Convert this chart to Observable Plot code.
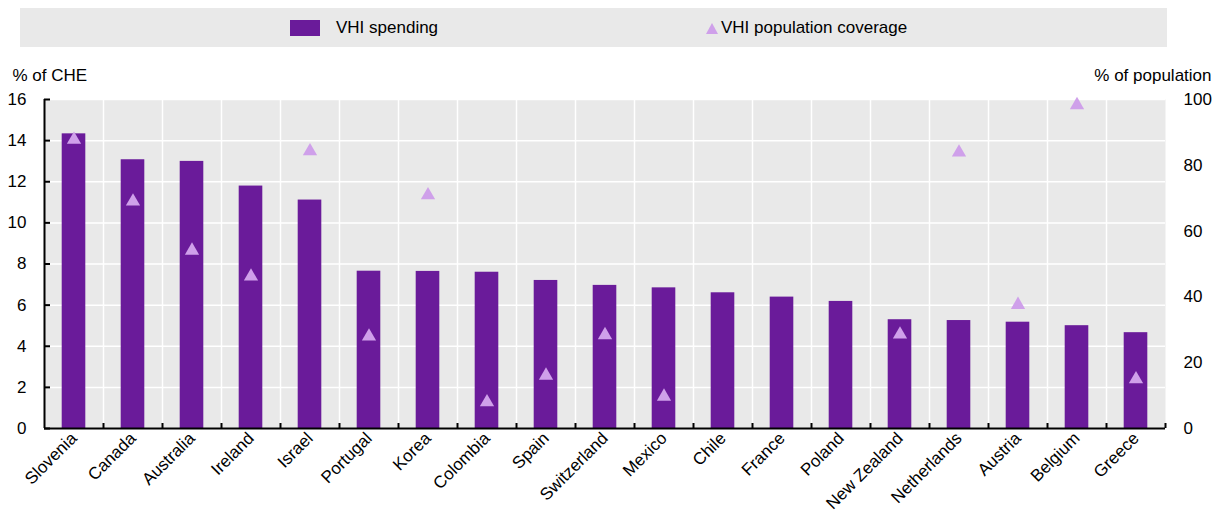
<!DOCTYPE html>
<html><head><meta charset="utf-8">
<script src="https://cdn.jsdelivr.net/npm/d3@7"></script>
<script src="https://cdn.jsdelivr.net/npm/@observablehq/plot@0.6"></script>
<style>
body{margin:0;background:#fff;font-family:"Liberation Sans",Arial,sans-serif;}
#wrap{position:relative;width:1220px;height:514px;overflow:hidden;}
#legend{position:absolute;left:20px;top:8px;width:1147px;height:39px;background:#e9e9e9;font-size:17px;color:#000;}
#legend .sw{position:absolute;left:270px;top:12px;width:30px;height:16px;background:#6a1b9a;}
#legend .t1{position:absolute;left:316px;top:10px;}
#legend .tri{position:absolute;left:686px;top:15px;}
#legend .t2{position:absolute;left:701px;top:10px;}
#chart{position:absolute;left:0;top:56px;}
</style></head>
<body><div id="wrap">
<div id="legend"><div class="sw"></div><div class="t1">VHI spending</div>
<svg class="tri" width="12" height="11"><polygon points="6,0 12,11 0,11" fill="#cfa0ea"/></svg>
<div class="t2">VHI population coverage</div></div>
<div id="chart"></div></div>
<script>
const categories = ["Slovenia","Canada","Australia","Ireland","Israel","Portugal","Korea","Colombia","Spain","Switzerland","Mexico","Chile","France","Poland","New Zealand","Netherlands","Austria","Belgium","Greece"];
const spending = [14.33,13.07,12.99,11.79,11.11,7.65,7.64,7.6,7.2,6.96,6.84,6.6,6.39,6.18,5.29,5.25,5.17,5.0,4.66];
const coverage = [87.8,69,54.1,46.2,84.3,28,70.9,8,16.1,28.4,9.7,null,null,null,28.6,83.9,37.6,98.3,15];
const leftTicks = [0,2,4,6,8,10,12,14,16];
const rightTicks = [0,20,40,60,80,100];
const leftTitle = "% of CHE";
const rightTitle = "% of population";
const LEFT_MAX = 16, RIGHT_MAX = 100;
const k = LEFT_MAX / RIGHT_MAX;
const n = categories.length;
const rows = categories.map((c,i)=>({i, country:c, spending:spending[i], coverage:coverage[i]}));
const boundaries = d3.range(n).map(i=>i+0.5);
const font = '"Liberation Sans", Arial, sans-serif';
const FS = 17;
const chart = Plot.plot({
  width:1220, height:458, marginTop:43, marginBottom:86, marginLeft:44, marginRight:55,
  style:{fontFamily:font, fontSize:FS+"px", color:"#000", background:"transparent", overflow:"visible"},
  x:{domain:[-0.5, n-0.5]},
  y:{domain:[0, LEFT_MAX]},
  marks:[
    Plot.frame({fill:"#e9e9e9", stroke:null}),
    Plot.gridY({ticks:leftTicks, stroke:"#fff", strokeOpacity:1, strokeWidth:1.5}),
    Plot.gridX({ticks:boundaries.slice(0,-1), stroke:"#fff", strokeOpacity:1, strokeWidth:1.5}),
    Plot.rectY(rows, {x1:d=>d.i-0.2, x2:d=>d.i+0.2, y:"spending", fill:"#6a1b9a"}),
    Plot.dot(rows.filter(d=>d.coverage!=null), {x:"i", y:d=>d.coverage*k, symbol:"triangle", r:5.3, fill:"#cfa0ea", stroke:"none"}),
    Plot.ruleY([0], {stroke:"#000", strokeWidth:2}),
    Plot.ruleX([-0.5], {stroke:"#000", strokeWidth:2}),
    Plot.axisY({anchor:"left", ticks:leftTicks, tickSize:-6, tickPadding:24, strokeWidth:2, fontSize:FS, label:null}),
    Plot.axisY({anchor:"right", ticks:rightTicks.map(v=>v*k), tickFormat:v=>Math.round(v/k), tickSize:0, tickPadding:18, fontSize:FS, label:null}),
    Plot.text([leftTitle], {frameAnchor:"top-left", text:d=>d, textAnchor:"start", lineAnchor:"bottom", dx:-32, dy:-19, fontSize:FS}),
    Plot.text([rightTitle], {frameAnchor:"top-right", text:d=>d, textAnchor:"end", lineAnchor:"bottom", dx:46, dy:-19, fontSize:FS}),
    Plot.axisX({ticks:boundaries, tickSize:-5, strokeWidth:2, tickFormat:()=>"", label:null}),
    Plot.axisX({ticks:d3.range(n), tickFormat:i=>categories[i], tickSize:0, tickRotate:-45, tickPadding:7, fontSize:FS, label:null})
  ]
});
document.getElementById("chart").appendChild(chart);
</script>
</body></html>
